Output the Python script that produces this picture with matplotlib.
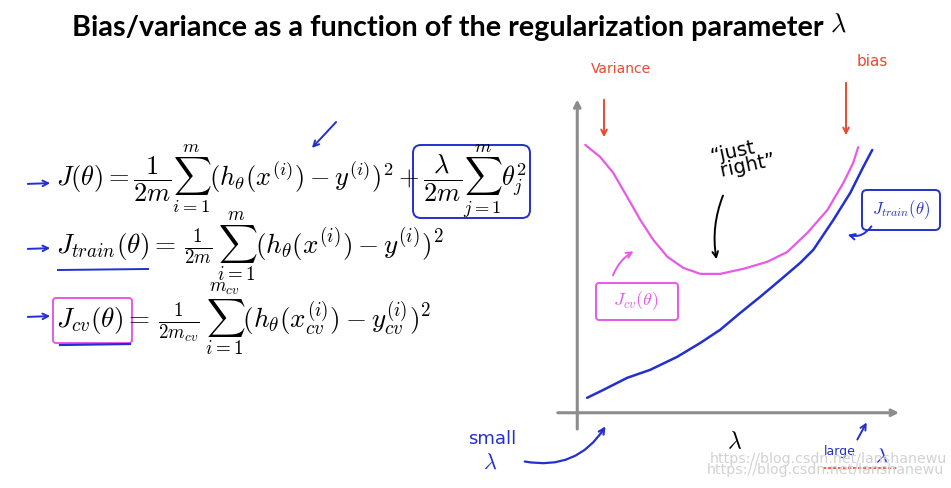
import matplotlib
matplotlib.use("Agg")
import matplotlib.pyplot as plt
from matplotlib.patches import FancyBboxPatch

plt.rcParams['mathtext.fontset'] = 'cm'

# curve values (lambda in arbitrary units, error in arbitrary units)
lam_cv = [0.25, 0.72, 1.13, 1.57, 1.98, 2.39, 2.83, 3.33, 3.87, 4.49, 5.22, 5.97, 6.60, 7.23, 7.86, 8.36, 8.67, 8.83]
j_cv = [8.43, 8.05, 7.55, 6.79, 6.07, 5.44, 4.91, 4.56, 4.37, 4.37, 4.53, 4.75, 5.06, 5.66, 6.38, 7.23, 7.86, 8.36]
lam_train = [0.31, 0.82, 1.57, 2.29, 3.14, 3.87, 4.49, 5.12, 5.75, 6.38, 7.01, 7.42, 8.05, 8.58, 8.99, 9.27]
j_train = [0.47, 0.72, 1.10, 1.35, 1.76, 2.20, 2.61, 3.14, 3.65, 4.18, 4.72, 5.13, 6.07, 6.92, 7.74, 8.27]

title = "Bias/variance as a function of the regularization parameter"
eq1 = r"$J(\theta) = \dfrac{1}{2m}\sum_{i=1}^{m}(h_\theta(x^{(i)}) - y^{(i)})^2 + \dfrac{\lambda}{2m}\sum_{j=1}^{m}\theta_j^2$"
eq2 = r"$J_{train}(\theta) = \,\frac{1}{2m}\,\sum_{i=1}^{m}(h_\theta(x^{(i)}) - y^{(i)})^2$"
eq3 = r"$J_{cv}(\theta) = \,\frac{1}{2m_{cv}}\,\sum_{i=1}^{m_{cv}}(h_\theta(x^{(i)}_{cv}) - y^{(i)}_{cv})^2$"
watermark = "https://blog.csdn.net/lanshanewu"

PINK = "#e65ae6"
BLUE = "#2230d0"
RED = "#ea4a2c"
GRAY = "#8c8c8c"

fig = plt.figure(figsize=(9.51, 4.88), dpi=100)

# overlay in pixel coordinates for the slide text and pen marks
ov = fig.add_axes([0, 0, 1, 1])
ov.set_xlim(0, 951)
ov.set_ylim(488, 0)
ov.axis("off")

t = ov.text(72, 28, title, fontsize=20, fontweight="bold", family="Lato",
            va="center", ha="left")
fig.canvas.draw()
w = t.get_window_extent().width
t.set_fontsize(20 * 748 / w)
ov.text(838, 25, r"$\lambda$", fontsize=19, va="center", ha="center")

ov.text(56, 182, eq1, fontsize=19, va="center", ha="left")
ov.text(56, 247, eq2, fontsize=19.5, va="center", ha="left")
ov.text(56, 319, eq3, fontsize=19.5, va="center", ha="left")

# pen marks on the left
for y0 in [183, 248, 316]:
    ov.annotate("", xy=(53, y0), xytext=(25, y0 + 1),
                arrowprops=dict(arrowstyle="->", color=BLUE, lw=1.4))
ov.annotate("", xy=(310, 150), xytext=(338, 120),
            arrowprops=dict(arrowstyle="->", color=BLUE, lw=1.4))
ov.add_patch(FancyBboxPatch((413, 145), 117, 73, boxstyle="round,pad=0,rounding_size=8",
                            fill=False, ec=BLUE, lw=1.4))
ov.plot([58, 148], [270, 269], color=BLUE, lw=1.4)
ov.add_patch(FancyBboxPatch((53, 298), 79, 45, boxstyle="round,pad=0,rounding_size=3",
                            fill=False, ec=PINK, lw=1.4))
ov.plot([60, 130], [345, 344], color=BLUE, lw=1.6)

# right-hand chart
ax = fig.add_axes([555 / 951, 1 - 435 / 488, 350 / 951, 340 / 488])
ax.set_xlim(-0.7, 10.3)
ax.set_ylim(-0.7, 10.0)
ax.axis("off")
ax.annotate("", xy=(10.2, 0), xytext=(-0.7, 0),
            arrowprops=dict(arrowstyle="->", color=GRAY, lw=2.2))
ax.annotate("", xy=(0, 9.95), xytext=(0, -0.6),
            arrowprops=dict(arrowstyle="->", color=GRAY, lw=2.2))
ax.plot(lam_cv, j_cv, color=PINK, lw=1.6, solid_capstyle="round")
ax.plot(lam_train, j_train, color=BLUE, lw=1.8, solid_capstyle="round")

hand = dict(family="DejaVu Sans", ha="center", va="center")
ov.text(621, 69, "Variance", color=RED, fontsize=10, **hand)
ov.annotate("", xy=(604, 140), xytext=(604, 97),
            arrowprops=dict(arrowstyle="->", color=RED, lw=1.4))
ov.text(872, 62, "bias", color=RED, fontsize=11, **hand)
ov.annotate("", xy=(846, 138), xytext=(846, 80),
            arrowprops=dict(arrowstyle="->", color=RED, lw=1.4))

ov.text(734, 160, "\u201cjust\n    right\u201d", color="black", fontsize=14, rotation=12,
        linespacing=0.85, **hand)
ov.annotate("", xy=(717, 262), xytext=(724, 193),
            arrowprops=dict(arrowstyle="->", color="black", lw=1.4,
                            connectionstyle="arc3,rad=0.15"))

ov.text(636, 301, r"$J_{cv}(\theta)$", color=PINK, fontsize=13, ha="center", va="center")
ov.add_patch(FancyBboxPatch((596, 283), 82, 37, boxstyle="round,pad=0,rounding_size=3",
                            fill=False, ec=PINK, lw=1.4))
ov.annotate("", xy=(636, 250), xytext=(612, 278),
            arrowprops=dict(arrowstyle="->", color=PINK, lw=1.4,
                            connectionstyle="arc3,rad=-0.2"))

ov.text(901, 210, r"$J_{train}(\theta)$", color=BLUE, fontsize=12, ha="center", va="center")
ov.add_patch(FancyBboxPatch((862, 190), 78, 40, boxstyle="round,pad=0,rounding_size=5",
                            fill=False, ec=BLUE, lw=1.4))
ov.annotate("", xy=(845, 234), xytext=(873, 224),
            arrowprops=dict(arrowstyle="->", color=BLUE, lw=1.4,
                            connectionstyle="arc3,rad=-0.4"))

ov.text(735, 441, r"$\lambda$", fontsize=17, ha="center", va="center")

ov.text(492, 439, "small", color=BLUE, fontsize=13, **hand)
ov.text(490, 463, r"$\lambda$", color=BLUE, fontsize=16, ha="center", va="center")
ov.annotate("", xy=(607, 424), xytext=(522, 461),
            arrowprops=dict(arrowstyle="->", color=BLUE, lw=1.6,
                            connectionstyle="arc3,rad=0.35"))

ov.text(840, 451, "large", color=BLUE, fontsize=9, **hand)
ov.text(882, 456, r"$\lambda$", color=BLUE, fontsize=15, ha="center", va="center")
ov.annotate("", xy=(868, 420), xytext=(856, 442),
            arrowprops=dict(arrowstyle="->", color=BLUE, lw=1.4))
ov.plot([823, 897], [468, 468], color=RED, lw=1.2, ls=(0, (2, 1)))

ov.text(947, 459, watermark, color="#d2d2d2", fontsize=10.2, ha="right", va="center")
ov.text(944, 470, watermark, color="#d2d2d2", fontsize=10.2, ha="right", va="center")

fig.savefig("out.png", dpi=100)
